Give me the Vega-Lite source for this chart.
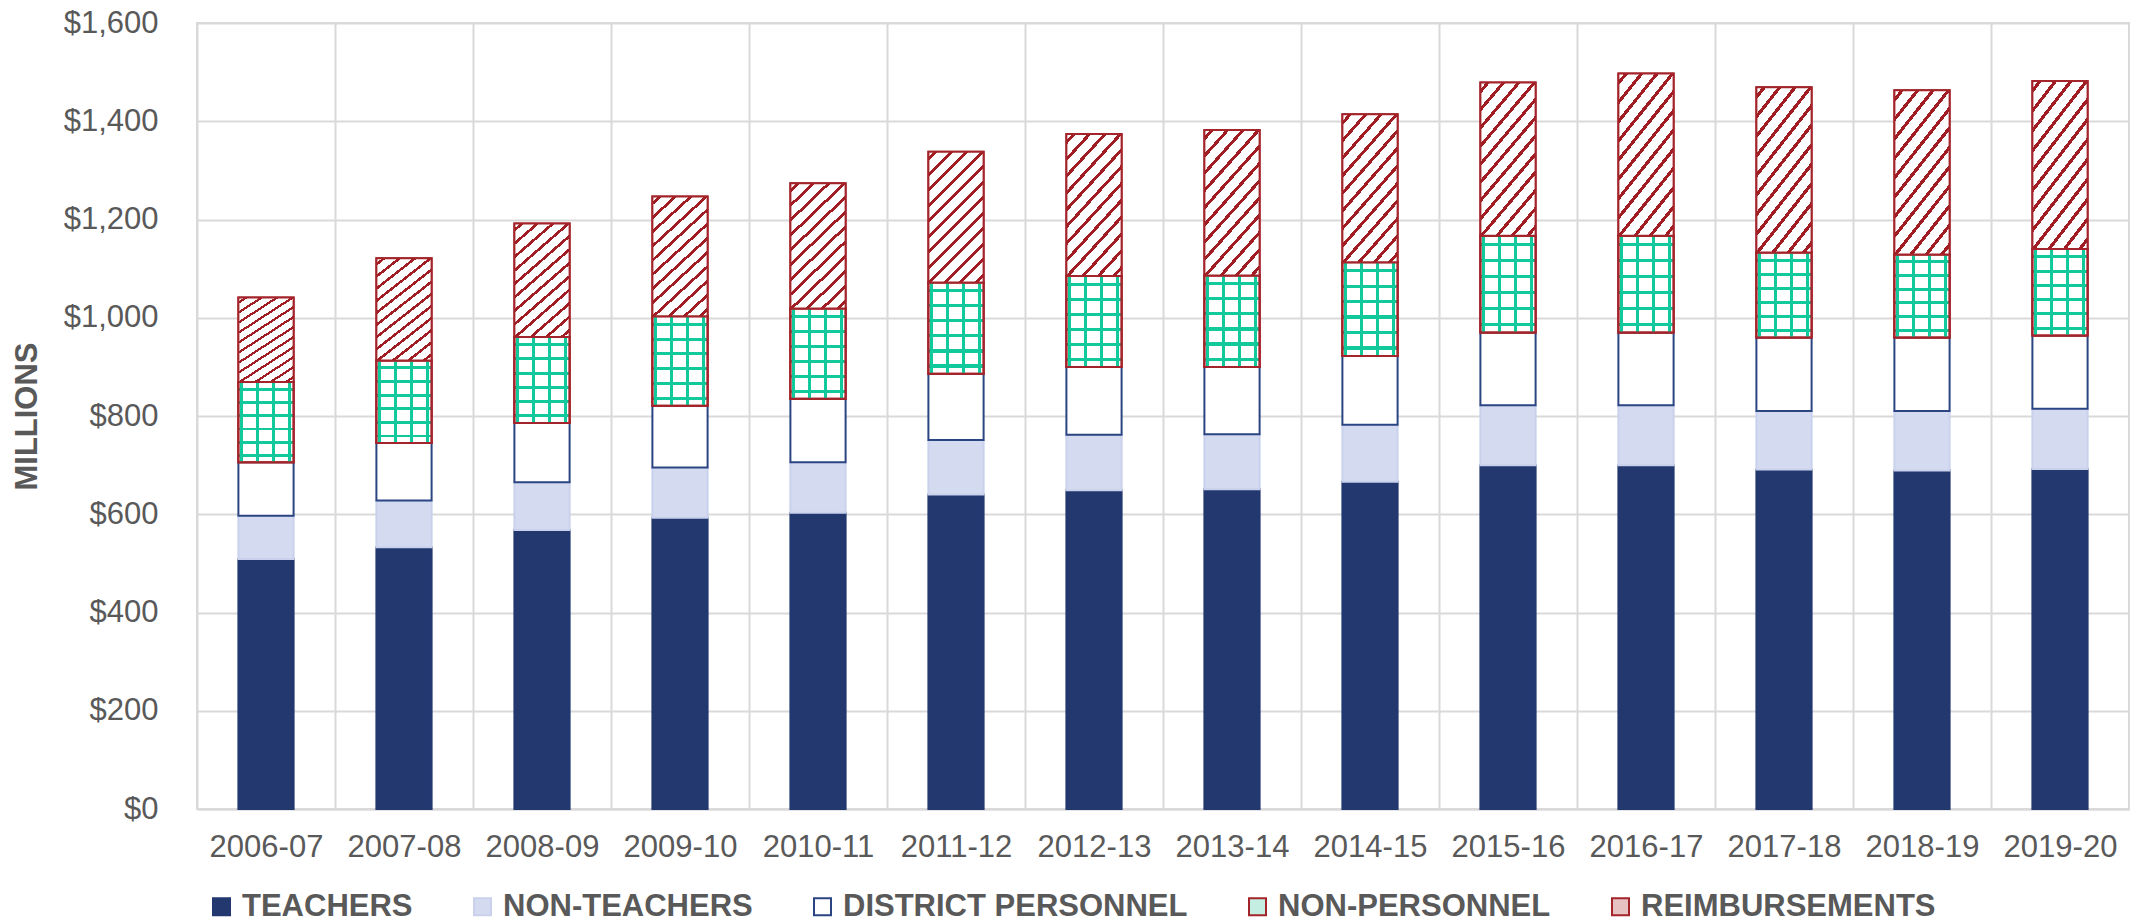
{
  "$schema": "https://vega.github.io/schema/vega-lite/v6.json",
  "width": 1932,
  "height": 786,
  "autosize": {"type": "none"},
  "padding": {"left": 197, "top": 23, "right": 7, "bottom": 113},
  "background": "white",
  "config": {
    "font": "Liberation Sans",
    "view": {"stroke": "#D9D9D9", "strokeWidth": 2}
  },
  "data": {
    "values": [
      {"year": "2006-07", "series": "TEACHERS", "order": 1, "value": 509},
      {"year": "2006-07", "series": "NON-TEACHERS", "order": 2, "value": 88},
      {"year": "2006-07", "series": "DISTRICT PERSONNEL", "order": 3, "value": 109},
      {"year": "2006-07", "series": "NON-PERSONNEL", "order": 4, "value": 163},
      {"year": "2006-07", "series": "REIMBURSEMENTS", "order": 5, "value": 172},
      {"year": "2007-08", "series": "TEACHERS", "order": 1, "value": 533},
      {"year": "2007-08", "series": "NON-TEACHERS", "order": 2, "value": 95},
      {"year": "2007-08", "series": "DISTRICT PERSONNEL", "order": 3, "value": 117},
      {"year": "2007-08", "series": "NON-PERSONNEL", "order": 4, "value": 168},
      {"year": "2007-08", "series": "REIMBURSEMENTS", "order": 5, "value": 208},
      {"year": "2008-09", "series": "TEACHERS", "order": 1, "value": 568},
      {"year": "2008-09", "series": "NON-TEACHERS", "order": 2, "value": 97},
      {"year": "2008-09", "series": "DISTRICT PERSONNEL", "order": 3, "value": 121},
      {"year": "2008-09", "series": "NON-PERSONNEL", "order": 4, "value": 175},
      {"year": "2008-09", "series": "REIMBURSEMENTS", "order": 5, "value": 231},
      {"year": "2009-10", "series": "TEACHERS", "order": 1, "value": 593},
      {"year": "2009-10", "series": "NON-TEACHERS", "order": 2, "value": 102},
      {"year": "2009-10", "series": "DISTRICT PERSONNEL", "order": 3, "value": 126},
      {"year": "2009-10", "series": "NON-PERSONNEL", "order": 4, "value": 182},
      {"year": "2009-10", "series": "REIMBURSEMENTS", "order": 5, "value": 244},
      {"year": "2010-11", "series": "TEACHERS", "order": 1, "value": 603},
      {"year": "2010-11", "series": "NON-TEACHERS", "order": 2, "value": 103},
      {"year": "2010-11", "series": "DISTRICT PERSONNEL", "order": 3, "value": 129},
      {"year": "2010-11", "series": "NON-PERSONNEL", "order": 4, "value": 184},
      {"year": "2010-11", "series": "REIMBURSEMENTS", "order": 5, "value": 255},
      {"year": "2011-12", "series": "TEACHERS", "order": 1, "value": 640},
      {"year": "2011-12", "series": "NON-TEACHERS", "order": 2, "value": 111},
      {"year": "2011-12", "series": "DISTRICT PERSONNEL", "order": 3, "value": 135},
      {"year": "2011-12", "series": "NON-PERSONNEL", "order": 4, "value": 186},
      {"year": "2011-12", "series": "REIMBURSEMENTS", "order": 5, "value": 266},
      {"year": "2012-13", "series": "TEACHERS", "order": 1, "value": 649},
      {"year": "2012-13", "series": "NON-TEACHERS", "order": 2, "value": 113},
      {"year": "2012-13", "series": "DISTRICT PERSONNEL", "order": 3, "value": 138},
      {"year": "2012-13", "series": "NON-PERSONNEL", "order": 4, "value": 185},
      {"year": "2012-13", "series": "REIMBURSEMENTS", "order": 5, "value": 289},
      {"year": "2013-14", "series": "TEACHERS", "order": 1, "value": 651},
      {"year": "2013-14", "series": "NON-TEACHERS", "order": 2, "value": 112},
      {"year": "2013-14", "series": "DISTRICT PERSONNEL", "order": 3, "value": 137},
      {"year": "2013-14", "series": "NON-PERSONNEL", "order": 4, "value": 186},
      {"year": "2013-14", "series": "REIMBURSEMENTS", "order": 5, "value": 296},
      {"year": "2014-15", "series": "TEACHERS", "order": 1, "value": 666},
      {"year": "2014-15", "series": "NON-TEACHERS", "order": 2, "value": 116},
      {"year": "2014-15", "series": "DISTRICT PERSONNEL", "order": 3, "value": 140},
      {"year": "2014-15", "series": "NON-PERSONNEL", "order": 4, "value": 191},
      {"year": "2014-15", "series": "REIMBURSEMENTS", "order": 5, "value": 301},
      {"year": "2015-16", "series": "TEACHERS", "order": 1, "value": 700},
      {"year": "2015-16", "series": "NON-TEACHERS", "order": 2, "value": 122},
      {"year": "2015-16", "series": "DISTRICT PERSONNEL", "order": 3, "value": 148},
      {"year": "2015-16", "series": "NON-PERSONNEL", "order": 4, "value": 197},
      {"year": "2015-16", "series": "REIMBURSEMENTS", "order": 5, "value": 312},
      {"year": "2016-17", "series": "TEACHERS", "order": 1, "value": 700},
      {"year": "2016-17", "series": "NON-TEACHERS", "order": 2, "value": 122},
      {"year": "2016-17", "series": "DISTRICT PERSONNEL", "order": 3, "value": 148},
      {"year": "2016-17", "series": "NON-PERSONNEL", "order": 4, "value": 197},
      {"year": "2016-17", "series": "REIMBURSEMENTS", "order": 5, "value": 330},
      {"year": "2017-18", "series": "TEACHERS", "order": 1, "value": 691},
      {"year": "2017-18", "series": "NON-TEACHERS", "order": 2, "value": 119},
      {"year": "2017-18", "series": "DISTRICT PERSONNEL", "order": 3, "value": 150},
      {"year": "2017-18", "series": "NON-PERSONNEL", "order": 4, "value": 173},
      {"year": "2017-18", "series": "REIMBURSEMENTS", "order": 5, "value": 336},
      {"year": "2018-19", "series": "TEACHERS", "order": 1, "value": 689},
      {"year": "2018-19", "series": "NON-TEACHERS", "order": 2, "value": 121},
      {"year": "2018-19", "series": "DISTRICT PERSONNEL", "order": 3, "value": 150},
      {"year": "2018-19", "series": "NON-PERSONNEL", "order": 4, "value": 169},
      {"year": "2018-19", "series": "REIMBURSEMENTS", "order": 5, "value": 334},
      {"year": "2019-20", "series": "TEACHERS", "order": 1, "value": 692},
      {"year": "2019-20", "series": "NON-TEACHERS", "order": 2, "value": 123},
      {"year": "2019-20", "series": "DISTRICT PERSONNEL", "order": 3, "value": 149},
      {"year": "2019-20", "series": "NON-PERSONNEL", "order": 4, "value": 176},
      {"year": "2019-20", "series": "REIMBURSEMENTS", "order": 5, "value": 342}
    ]
  },
  "transform": [
    {"stack": "value", "groupby": ["year"], "sort": [{"field": "order", "order": "ascending"}], "as": ["y0", "y1"]}
  ],
  "encoding": {
    "x": {
      "field": "year",
      "type": "nominal",
      "sort": "ascending",
      "scale": {"paddingInner": 0.6, "paddingOuter": 0.3},
      "axis": {
        "title": null,
        "labelAngle": 0,
        "labelFontSize": 31,
        "labelColor": "#595959",
        "labelPadding": 23,
        "ticks": false,
        "tickSize": 0,
        "tickOffset": -69,
        "labelOffset": 69,
        "domainColor": "#D9D9D9",
        "domainWidth": 2,
        "grid": true,
        "gridColor": "#D9D9D9",
        "gridWidth": 2
      }
    },
    "y": {
      "field": "y1",
      "type": "quantitative",
      "scale": {"domain": [0, 1600], "nice": false},
      "axis": {
        "title": "MILLIONS",
        "titleFontSize": 31,
        "titleFontWeight": "bold",
        "titleColor": "#595959",
        "titlePadding": 20,
        "values": [0, 200, 400, 600, 800, 1000, 1200, 1400, 1600],
        "format": "$,d",
        "labelFontSize": 31,
        "labelColor": "#595959",
        "labelPadding": 39,
        "ticks": false,
        "tickSize": 0,
        "domain": false,
        "grid": true,
        "gridColor": "#D9D9D9",
        "gridWidth": 2
      }
    },
    "y2": {"field": "y0"}
  },
  "layer": [
    {
      "mark": {"type": "bar", "strokeWidth": 2},
      "encoding": {
        "fill": {
          "field": "series",
          "type": "nominal",
          "scale": {
            "domain": ["TEACHERS", "NON-TEACHERS", "DISTRICT PERSONNEL", "NON-PERSONNEL", "REIMBURSEMENTS"],
            "range": ["#22386F", "#D4DAF0", "#FFFFFF", "#C4EEE1", "#E6C2C3"]
          },
          "legend": {
            "title": null,
            "orient": "none",
            "legendX": 9,
            "legendY": 868,
            "padding": 0,
            "direction": "horizontal",
            "symbolType": "square",
            "symbolSize": 289,
            "symbolStrokeWidth": 2,
            "labelFontSize": 31,
            "labelFontWeight": "bold",
            "labelColor": "#595959",
            "labelOffset": 5,
            "labelLimit": 0,
            "columnPadding": 54
          }
        },
        "stroke": {
          "field": "series",
          "type": "nominal",
          "scale": {
            "domain": ["TEACHERS", "NON-TEACHERS", "DISTRICT PERSONNEL", "NON-PERSONNEL", "REIMBURSEMENTS"],
            "range": ["#22386F", "#C9D1EC", "#2B4482", "#A3242A", "#A3242A"]
          },
          "legend": {
            "title": null,
            "orient": "none",
            "legendX": 9,
            "legendY": 868,
            "padding": 0,
            "direction": "horizontal",
            "symbolType": "square",
            "symbolSize": 289,
            "symbolStrokeWidth": 2,
            "labelFontSize": 31,
            "labelFontWeight": "bold",
            "labelColor": "#595959",
            "labelOffset": 5,
            "labelLimit": 0,
            "columnPadding": 54
          }
        }
      }
    },
    {
      "transform": [{"filter": "datum.series === 'NON-PERSONNEL'"}],
      "mark": {
        "type": "bar",
        "stroke": "#A3242A",
        "strokeWidth": 2,
        "fill": {"gradient": "linear", "x1": 0, "y1": 0, "x2": 0, "y2": 1, "stops": [
          {"offset": 0, "color": "#FFFFFF"}, {"offset": 0.0725, "color": "#FFFFFF"},
          {"offset": 0.0725, "color": "#12C99B"}, {"offset": 0.1075, "color": "#12C99B"},
          {"offset": 0.1075, "color": "#FFFFFF"}, {"offset": 0.2375, "color": "#FFFFFF"},
          {"offset": 0.2375, "color": "#12C99B"}, {"offset": 0.2725, "color": "#12C99B"},
          {"offset": 0.2725, "color": "#FFFFFF"}, {"offset": 0.4025, "color": "#FFFFFF"},
          {"offset": 0.4025, "color": "#12C99B"}, {"offset": 0.4375, "color": "#12C99B"},
          {"offset": 0.4375, "color": "#FFFFFF"}, {"offset": 0.5675, "color": "#FFFFFF"},
          {"offset": 0.5675, "color": "#12C99B"}, {"offset": 0.6025, "color": "#12C99B"},
          {"offset": 0.6025, "color": "#FFFFFF"}, {"offset": 0.7325, "color": "#FFFFFF"},
          {"offset": 0.7325, "color": "#12C99B"}, {"offset": 0.7675, "color": "#12C99B"},
          {"offset": 0.7675, "color": "#FFFFFF"}, {"offset": 0.8975, "color": "#FFFFFF"},
          {"offset": 0.8975, "color": "#12C99B"}, {"offset": 0.9325, "color": "#12C99B"},
          {"offset": 0.9325, "color": "#FFFFFF"}, {"offset": 1, "color": "#FFFFFF"}
        ]}
      }
    },
    {
      "transform": [{"filter": "datum.series === 'NON-PERSONNEL'"}],
      "mark": {
        "type": "bar",
        "stroke": "#A3242A",
        "strokeWidth": 2,
        "fill": {"gradient": "linear", "x1": 0, "y1": 0, "x2": 1, "y2": 0, "stops": [
          {"offset": 0, "color": "rgba(255,255,255,0)"}, {"offset": 0.0325, "color": "rgba(255,255,255,0)"},
          {"offset": 0.0325, "color": "#12C99B"}, {"offset": 0.0875, "color": "#12C99B"},
          {"offset": 0.0875, "color": "rgba(255,255,255,0)"}, {"offset": 0.3225, "color": "rgba(255,255,255,0)"},
          {"offset": 0.3225, "color": "#12C99B"}, {"offset": 0.3775, "color": "#12C99B"},
          {"offset": 0.3775, "color": "rgba(255,255,255,0)"}, {"offset": 0.6125, "color": "rgba(255,255,255,0)"},
          {"offset": 0.6125, "color": "#12C99B"}, {"offset": 0.6675, "color": "#12C99B"},
          {"offset": 0.6675, "color": "rgba(255,255,255,0)"}, {"offset": 0.9025, "color": "rgba(255,255,255,0)"},
          {"offset": 0.9025, "color": "#12C99B"}, {"offset": 0.9575, "color": "#12C99B"},
          {"offset": 0.9575, "color": "rgba(255,255,255,0)"}, {"offset": 1, "color": "rgba(255,255,255,0)"}
        ]}
      }
    },
    {
      "transform": [{"filter": "datum.series === 'REIMBURSEMENTS'"}],
      "mark": {
        "type": "bar",
        "stroke": "#A3242A",
        "strokeWidth": 2,
        "fill": {"gradient": "linear", "x1": 0, "y1": 0, "x2": 0.511, "y2": 1.207, "stops": [
          {"offset": 0, "color": "#FFFFFF"}, {"offset": 0.031, "color": "#FFFFFF"},
          {"offset": 0.031, "color": "#A01D23"}, {"offset": 0.053, "color": "#A01D23"},
          {"offset": 0.053, "color": "#FFFFFF"}, {"offset": 0.114, "color": "#FFFFFF"},
          {"offset": 0.114, "color": "#A01D23"}, {"offset": 0.136, "color": "#A01D23"},
          {"offset": 0.136, "color": "#FFFFFF"}, {"offset": 0.197, "color": "#FFFFFF"},
          {"offset": 0.197, "color": "#A01D23"}, {"offset": 0.219, "color": "#A01D23"},
          {"offset": 0.219, "color": "#FFFFFF"}, {"offset": 0.281, "color": "#FFFFFF"},
          {"offset": 0.281, "color": "#A01D23"}, {"offset": 0.303, "color": "#A01D23"},
          {"offset": 0.303, "color": "#FFFFFF"}, {"offset": 0.364, "color": "#FFFFFF"},
          {"offset": 0.364, "color": "#A01D23"}, {"offset": 0.386, "color": "#A01D23"},
          {"offset": 0.386, "color": "#FFFFFF"}, {"offset": 0.447, "color": "#FFFFFF"},
          {"offset": 0.447, "color": "#A01D23"}, {"offset": 0.469, "color": "#A01D23"},
          {"offset": 0.469, "color": "#FFFFFF"}, {"offset": 0.531, "color": "#FFFFFF"},
          {"offset": 0.531, "color": "#A01D23"}, {"offset": 0.553, "color": "#A01D23"},
          {"offset": 0.553, "color": "#FFFFFF"}, {"offset": 0.614, "color": "#FFFFFF"},
          {"offset": 0.614, "color": "#A01D23"}, {"offset": 0.636, "color": "#A01D23"},
          {"offset": 0.636, "color": "#FFFFFF"}, {"offset": 0.697, "color": "#FFFFFF"},
          {"offset": 0.697, "color": "#A01D23"}, {"offset": 0.719, "color": "#A01D23"},
          {"offset": 0.719, "color": "#FFFFFF"}, {"offset": 0.781, "color": "#FFFFFF"},
          {"offset": 0.781, "color": "#A01D23"}, {"offset": 0.803, "color": "#A01D23"},
          {"offset": 0.803, "color": "#FFFFFF"}, {"offset": 0.864, "color": "#FFFFFF"},
          {"offset": 0.864, "color": "#A01D23"}, {"offset": 0.886, "color": "#A01D23"},
          {"offset": 0.886, "color": "#FFFFFF"}, {"offset": 0.947, "color": "#FFFFFF"},
          {"offset": 0.947, "color": "#A01D23"}, {"offset": 0.969, "color": "#A01D23"},
          {"offset": 0.969, "color": "#FFFFFF"}, {"offset": 1, "color": "#FFFFFF"}
        ]}
      }
    }
  ]
}
